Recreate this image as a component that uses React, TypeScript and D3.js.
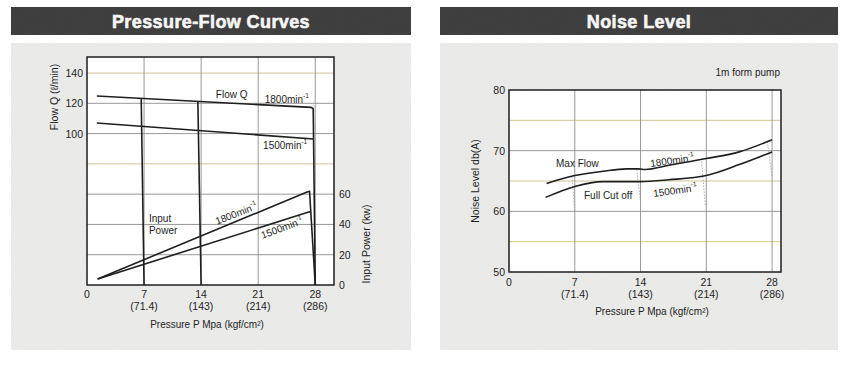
import * as d3 from 'd3';
import React, { useEffect, useRef } from 'react';

// ---- shared axis data
const pressureTicks = [0, 7, 14, 21, 28];
const kgfLabels = ['', '(71.4)', '(143)', '(214)', '(286)'];

// ---- Pressure-Flow chart data (P in MPa, Q in l/min, power in kW)
const flowTickLabels = [100, 120, 140];
const flowGrid = [20, 40, 60, 80, 100, 120, 140];
const tintedFlowGrid = [80, 140];
const powerTickLabels = [0, 20, 40, 60];

const flow1800: [number, number][] = [[1.2, 124.8], [27.5, 117.3], [27.75, 116.4], [28, 0]];
const flow1500: [number, number][] = [[1.2, 107], [27.78, 96.4]];
const cutoff7: [number, number][] = [[6.65, 123.2], [7, 0]];
const cutoff14: [number, number][] = [[13.6, 121.2], [14, 0]];
const power1800: [number, number][] = [[1.3, 4], [27.0, 61.4], [27.3, 61.9], [28, 0]];
const power1500: [number, number][] = [[1.3, 4], [27.1, 48], [27.46, 48.6]];

// ---- Noise chart data (P in MPa, dB(A))
const noiseTickLabels = [50, 60, 70, 80];
const noiseGrid = [55, 60, 65, 70, 75];
const tintedNoiseGrid = [55, 65, 75];

const maxFlow: [number, number][] = [
  [4, 64.6], [7, 65.9], [10, 66.6], [12.5, 67.0], [13.8, 67.0], [14.5, 66.9],
  [17, 67.6], [21, 68.7], [24.5, 69.8], [28, 71.8]
];
const fullCutOff: [number, number][] = [
  [3.9, 62.3], [7, 64.1], [10, 64.9], [14, 64.9], [17, 65.2], [21, 65.9], [24.5, 67.7], [28, 69.8]
];
const dropLines = [
  { p0: 6.7, top: 65.7, p1: 7, bottom: 60 },
  { p0: 13.6, top: 66.9, p1: 14, bottom: 61.5 },
  { p0: 20.5, top: 68.2, p1: 20.9, bottom: 60.8 },
  { p0: 27.5, top: 71.5, p1: 28, bottom: 65.7 }
];

const FONT = '"Liberation Sans", Arial, Helvetica, sans-serif';
const INK = '#1e1e1e';
const GRID = '#8c8c8c';
const TINT = '#cbbd86';

export default function App() {
  const svgRef = useRef<SVGSVGElement | null>(null);

  useEffect(() => {
    const svg = d3.select(svgRef.current);
    svg.selectAll('*').remove();

    // grainy paper texture for the panels
    const defs = svg.append('defs');
    const filter = defs.append('filter').attr('id', 'grain');
    filter.append('feTurbulence').attr('type', 'fractalNoise').attr('baseFrequency', 0.9).attr('numOctaves', 2).attr('result', 'n');
    filter.append('feColorMatrix').attr('in', 'n').attr('type', 'matrix')
      .attr('values', '0 0 0 0 0.5  0 0 0 0 0.5  0 0 0 0 0.5  0 0 0 0.06 0');
    filter.append('feComposite').attr('in2', 'SourceGraphic').attr('operator', 'in');

    const label = (g: any, x: number, y: number, txt: string, sup?: string, opts: any = {}) => {
      const t = g.append('text')
        .attr('x', x)
        .attr('y', y)
        .attr('font-family', FONT)
        .attr('font-size', opts.size || 10)
        .attr('fill', INK)
        .attr('text-anchor', opts.anchor || 'start')
        .attr('dominant-baseline', 'central');
      if (opts.rotate) t.attr('transform', `rotate(${opts.rotate},${x},${y})`);
      t.append('tspan').text(txt);
      if (sup) t.append('tspan').attr('font-size', 6.5).attr('dy', -4).text(sup);
      return t;
    };

    const panel = (x0: number, x1: number, title: string) => {
      svg.append('rect').attr('x', x0).attr('y', 7).attr('width', x1 - x0).attr('height', 28).attr('fill', '#3b3b3b');
      svg.append('rect').attr('x', x0).attr('y', 7).attr('width', x1 - x0).attr('height', 28).attr('fill', '#fff').attr('filter', 'url(#grain)');
      svg.append('text')
        .attr('x', (x0 + x1) / 2)
        .attr('y', 22)
        .attr('text-anchor', 'middle')
        .attr('dominant-baseline', 'central')
        .attr('font-family', FONT)
        .attr('font-weight', 'bold')
        .attr('font-size', 18)
        .attr('letter-spacing', 0.4)
        .attr('fill', '#f6f6f6')
        .attr('stroke', '#f6f6f6')
        .attr('stroke-width', 0.6)
        .text(title);
      svg.append('rect').attr('x', x0).attr('y', 43).attr('width', x1 - x0).attr('height', 307).attr('fill', '#ebebea');
      svg.append('rect').attr('x', x0).attr('y', 43).attr('width', x1 - x0).attr('height', 307).attr('fill', '#fff').attr('filter', 'url(#grain)');
    };

    const line = (g: any, pts: [number, number][], x: any, y: any, curve: any = d3.curveLinear) => {
      g.append('path')
        .attr('d', d3.line<[number, number]>().x((d) => x(d[0])).y((d) => y(d[1])).curve(curve)(pts))
        .attr('fill', 'none')
        .attr('stroke', INK)
        .attr('stroke-width', 1.6)
        .attr('stroke-linejoin', 'round');
    };

    const xAxisLabels = (g: any, x: any, yTick: number) => {
      pressureTicks.forEach((p, i) => {
        label(g, x(p), yTick, String(p), undefined, { anchor: 'middle', size: 10.5 });
        if (kgfLabels[i]) label(g, x(p), yTick + 12, kgfLabels[i], undefined, { anchor: 'middle', size: 10.5 });
      });
    };

    // ================= Pressure-Flow Curves =================
    panel(11, 411, 'Pressure-Flow Curves');
    const gL = svg.append('g');
    const xL = d3.scaleLinear().domain([0, 30.3]).range([87, 334]);
    const yL = d3.scaleLinear().domain([0, 150.6]).range([285, 57]);

    gL.append('rect').attr('x', xL(0)).attr('y', yL(150.6)).attr('width', xL(30.3) - xL(0)).attr('height', yL(0) - yL(150.6)).attr('fill', '#fff');
    flowGrid.forEach((v) => {
      gL.append('line').attr('x1', xL(0)).attr('x2', xL(30.3)).attr('y1', yL(v)).attr('y2', yL(v))
        .attr('stroke', tintedFlowGrid.includes(v) ? TINT : GRID).attr('stroke-width', 0.9);
    });
    pressureTicks.slice(1).forEach((p) => {
      gL.append('line').attr('x1', xL(p)).attr('x2', xL(p)).attr('y1', yL(0)).attr('y2', yL(150.6))
        .attr('stroke', GRID).attr('stroke-width', 0.9);
    });
    gL.append('rect').attr('x', xL(0)).attr('y', yL(150.6)).attr('width', xL(30.3) - xL(0)).attr('height', yL(0) - yL(150.6))
      .attr('fill', 'none').attr('stroke', INK).attr('stroke-width', 1.5);

    [flow1800, flow1500, cutoff7, cutoff14, power1800, power1500].forEach((pts) => line(gL, pts, xL, yL));

    flowTickLabels.forEach((v) => label(gL, 83, yL(v), String(v), undefined, { anchor: 'end', size: 10.5 }));
    powerTickLabels.forEach((v) => label(gL, 339, yL(v), String(v), undefined, { size: 10.5 }));
    xAxisLabels(gL, xL, 294);
    label(gL, 207, 324, 'Pressure P Mpa (kgf/cm²)', undefined, { anchor: 'middle' });
    label(gL, 54, 97, 'Flow Q (ℓ/min)', undefined, { anchor: 'middle', rotate: -90, size: 10.5 });
    label(gL, 366, 244, 'Input Power (kw)', undefined, { anchor: 'middle', rotate: -90, size: 10.5 });

    label(gL, xL(15.8), yL(126), 'Flow Q');
    label(gL, xL(21.8), yL(122.9), '1800min', '-1');
    label(gL, xL(21.6), yL(92.5), '1500min', '-1');
    label(gL, xL(7.6), yL(44), 'Input');
    label(gL, xL(7.6), yL(36), 'Power');
    label(gL, xL(18.3), yL(47.5), '1800min', '-1', { anchor: 'middle', rotate: -21 });
    label(gL, xL(23.9), yL(38), '1500min', '-1', { anchor: 'middle', rotate: -20 });

    // ================= Noise Level =================
    panel(440, 838, 'Noise Level');
    const gR = svg.append('g');
    const xR = d3.scaleLinear().domain([0, 28.95]).range([509, 781]);
    const yR = d3.scaleLinear().domain([50, 80]).range([272, 90]);

    gR.append('rect').attr('x', xR(0)).attr('y', yR(80)).attr('width', xR(28.95) - xR(0)).attr('height', yR(50) - yR(80)).attr('fill', '#fff');
    noiseGrid.forEach((v) => {
      gR.append('line').attr('x1', xR(0)).attr('x2', xR(28.95)).attr('y1', yR(v)).attr('y2', yR(v))
        .attr('stroke', tintedNoiseGrid.includes(v) ? (v === 55 ? '#d2c96a' : TINT) : GRID).attr('stroke-width', 0.9);
    });
    pressureTicks.slice(1).forEach((p) => {
      gR.append('line').attr('x1', xR(p)).attr('x2', xR(p)).attr('y1', yR(50)).attr('y2', yR(80))
        .attr('stroke', GRID).attr('stroke-width', 0.9);
    });
    gR.append('rect').attr('x', xR(0)).attr('y', yR(80)).attr('width', xR(28.95) - xR(0)).attr('height', yR(50) - yR(80))
      .attr('fill', 'none').attr('stroke', INK).attr('stroke-width', 1.5);

    dropLines.forEach((d) => {
      gR.append('line').attr('x1', xR(d.p0)).attr('y1', yR(d.top)).attr('x2', xR(d.p1)).attr('y2', yR(d.bottom))
        .attr('stroke', '#9a9a9a').attr('stroke-width', 0.8).attr('stroke-dasharray', '1.5,1.5');
    });
    line(gR, maxFlow, xR, yR, d3.curveMonotoneX);
    line(gR, fullCutOff, xR, yR, d3.curveMonotoneX);

    noiseTickLabels.forEach((v) => label(gR, 505, yR(v), String(v), undefined, { anchor: 'end', size: 10.5 }));
    xAxisLabels(gR, xR, 282);
    label(gR, 652, 311, 'Pressure P Mpa (kgf/cm²)', undefined, { anchor: 'middle' });
    label(gR, 475, 181, 'Noise Level db(A)', undefined, { anchor: 'middle', rotate: -90, size: 10.5 });
    label(gR, 780, 72, '1m form pump', undefined, { anchor: 'end' });

    label(gR, 556, 163, 'Max Flow');
    label(gR, 584, 195, 'Full Cut off');
    label(gR, 672, 160, '1800min', '-1', { anchor: 'middle', rotate: -8 });
    label(gR, 675, 190, '1500min', '-1', { anchor: 'middle', rotate: -8 });
  }, []);

  return (
    <svg
      ref={svgRef}
      width={856}
      height={373}
      style={{ position: 'absolute', left: 0, top: 0, background: '#fff', display: 'block' }}
    />
  );
}
